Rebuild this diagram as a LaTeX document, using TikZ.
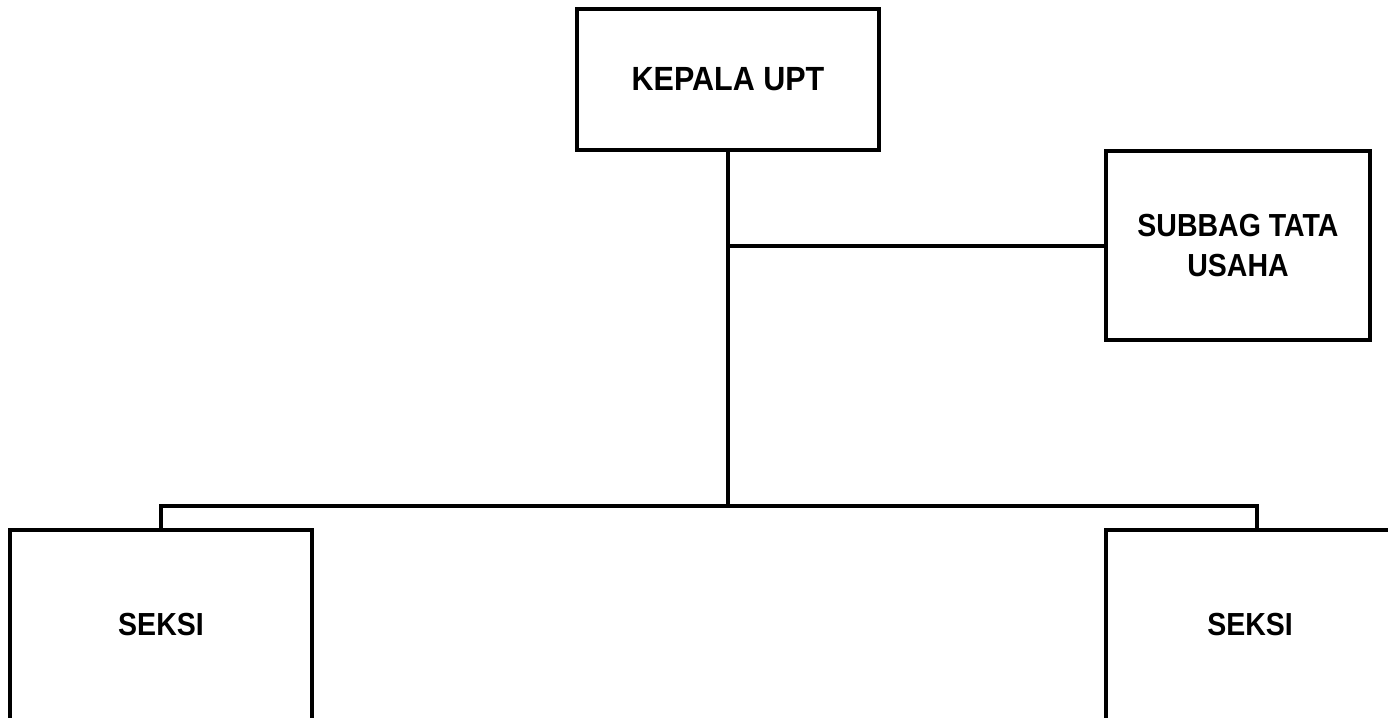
\documentclass[tikz,border=0pt]{standalone}
\usepackage{fontspec}
\newfontfamily\labelfont{Liberation Sans Bold}
\usepackage{graphicx}
\begin{document}
\begin{tikzpicture}[x=1pt,y=-1pt,
  line width=3.2pt,
  unit/.style={draw=black, line width=3.2pt, rectangle, inner sep=0pt, align=center},
  conn/.style={draw=black, line width=3.2pt},
  bigtxt/.style={font=\labelfont\fontsize{30.5}{36}\selectfont},
  midtxt/.style={font=\labelfont\fontsize{28.5}{39}\selectfont}
]
\clip (0,0) rectangle (1388,717);
\fill[white] (0,0) rectangle (1388,717);

\node[unit, bigtxt, minimum width=302pt, minimum height=141pt] (kepala) at (728,79.5)
  {\scalebox{1}[1.1]{KEPALA UPT}};
\node[unit, midtxt, minimum width=264pt, minimum height=189pt] (subbag) at (1238,245.5)
  {\scalebox{1}[1.12]{SUBBAG TATA}\\[1pt]\scalebox{1}[1.12]{USAHA}};
\node[unit, midtxt, minimum width=302pt, minimum height=190pt] (seksiA) at (161,625)
  {\scalebox{1}[1.12]{SEKSI}};
\node[unit, midtxt, minimum width=288pt, minimum height=190pt] (seksiB) at (1250,625)
  {\scalebox{1}[1.12]{SEKSI}};

\coordinate (j1) at (728,246);
\coordinate (j2) at (728,506);
\coordinate (bTop) at (1257,530);

\draw[conn] (kepala.south) -- (j2);
\draw[conn] (j1) -- (j1 -| subbag.west);
\draw[conn] (seksiA.north) |- (j2);
\draw[conn] (j2) -| (bTop);
\end{tikzpicture}
\end{document}
